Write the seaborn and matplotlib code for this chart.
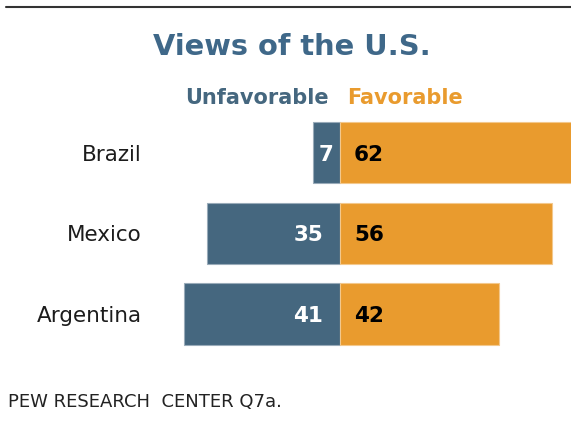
import matplotlib
matplotlib.use("Agg")
import matplotlib.pyplot as plt
import matplotlib.transforms as mtransforms
from matplotlib.lines import Line2D
import pandas as pd
import seaborn as sns

# Survey results (percent)
countries = ["Brazil", "Mexico", "Argentina"]
unfavorable = [7, 35, 41]
favorable = [62, 56, 42]

title = "Views of the U.S."
legend_labels = ["Unfavorable", "Favorable"]
source_note = "PEW RESEARCH  CENTER Q7a."

BLUE = "#45677f"
ORANGE = "#e99b2e"
TITLE_BLUE = "#3f6889"
TEXT_DARK = "#1c1c1c"

sns.set_theme(style="white")
plt.rcParams["font.family"] = ["DejaVu Sans"]

# Long-form table: unfavorable shares point left (negative), favorable right
df = pd.concat([
    pd.DataFrame({"country": countries, "share": [-v for v in unfavorable],
                  "stance": legend_labels[0]}),
    pd.DataFrame({"country": countries, "share": favorable,
                  "stance": legend_labels[1]}),
], ignore_index=True)

W, H = 571, 423
fig = plt.figure(figsize=(W / 100, H / 100), dpi=100)
fig.patch.set_facecolor("white")

# axes spans the full width; zero line sits at x = 339.5 px, 3.8 px per point
px_per_unit = 3.8
zero_px = 339.5
ax = fig.add_axes([0, 1 - 354.4 / H, 1, 242.25 / H])
ax.set_facecolor("none")

sns.barplot(data=df, x="share", y="country", hue="stance", order=countries,
            hue_order=legend_labels, palette=[BLUE, ORANGE], dodge=False,
            width=0.76, orient="h", legend=False, ax=ax, saturation=1,
            linewidth=0.8, edgecolor="none")

# soft light rim around each bar
for patch in ax.patches:
    fc = patch.get_facecolor()
    rim = tuple(0.55 * c + 0.45 for c in fc[:3])
    patch.set_edgecolor(rim)
    patch.set_linewidth(0.8)

ax.set_xlim(-zero_px / px_per_unit, (W - zero_px) / px_per_unit)
ax.set_ylim(2.5, -0.5)
ax.set_axis_off()

# value labels
label_font = dict(fontsize=15.5, fontweight="bold")
for i, (u, f) in enumerate(zip(unfavorable, favorable)):
    if u * px_per_unit >= 36:
        ax.text(-4.35, i + 0.10, str(u), ha="right", va="baseline",
                color="white", **label_font)
    else:
        ax.text(-u / 2, i + 0.10, str(u), ha="center", va="baseline",
                color="white", **label_font)
    ax.text(3.8, i + 0.10, str(f), ha="left", va="baseline",
            color="black", **label_font)

# country names, right-aligned left of the bars
trans = mtransforms.blended_transform_factory(fig.transFigure, ax.transData)
for i, c in enumerate(countries):
    ax.text(142 / W, i + 0.10, c, transform=trans, ha="right", va="baseline",
            fontsize=15.5, color=TEXT_DARK)

# title, column headers, source
fig.text(292 / W, 1 - 55 / H, title, ha="center", va="baseline",
         fontsize=20.8, fontweight="bold", color=TITLE_BLUE)
fig.text(329 / W, 1 - 104 / H, legend_labels[0], ha="right", va="baseline",
         fontsize=15, fontweight="bold", color=BLUE)
fig.text(347 / W, 1 - 104 / H, legend_labels[1], ha="left", va="baseline",
         fontsize=15, fontweight="bold", color=ORANGE)
fig.text(8 / W, 1 - 406.7 / H, source_note, ha="left", va="baseline",
         fontsize=13, color="#222222")

# rule across the top
fig.add_artist(Line2D([6 / W, 1], [1 - 7.5 / H] * 2, color="#333333",
                      linewidth=1.5, transform=fig.transFigure))

fig.savefig("out.png", dpi=100, facecolor="white")
